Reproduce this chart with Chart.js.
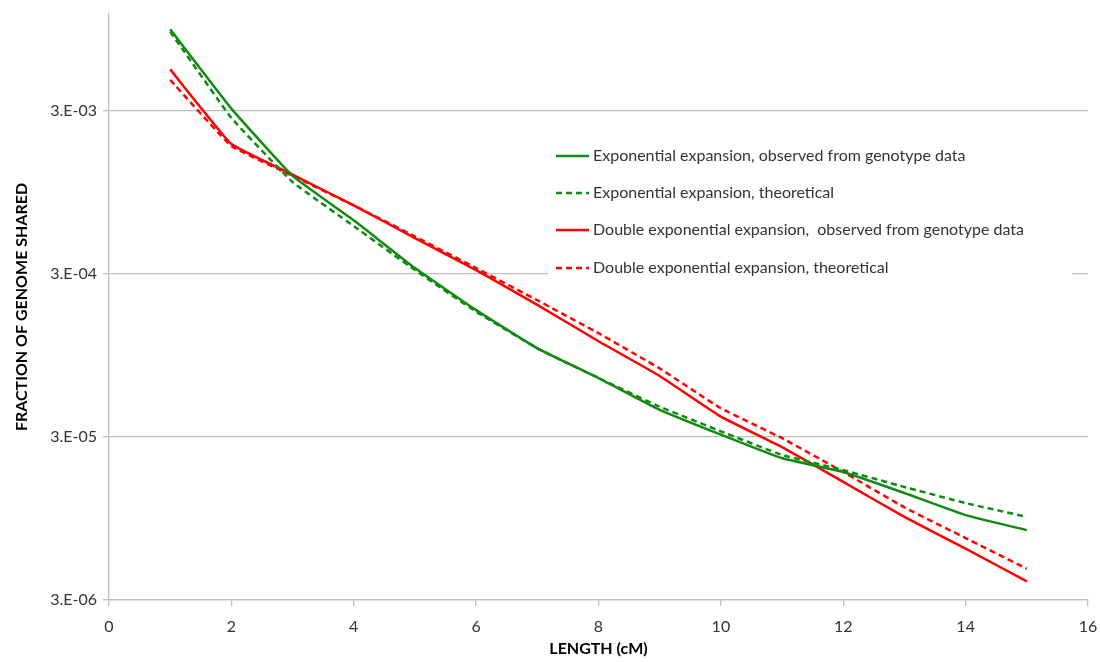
<!DOCTYPE html>
<html>
<head>
<meta charset="utf-8">
<script src="https://cdn.jsdelivr.net/npm/chart.js@4.4.1/dist/chart.umd.min.js"></script>
<style>
  html, body { margin: 0; padding: 0; background: #fff; }
  #wrap { width: 1100px; height: 662px; position: relative; }
</style>
</head>
<body>
<div id="wrap"><canvas id="c" width="1100" height="662"></canvas></div>
<script>
const lengths = [1, 2, 3, 4, 5, 6, 7, 8, 9, 10, 11, 12, 13, 14, 15];
const expObserved = [9.5e-3, 3.1e-3, 1.2e-3, 6.4e-4, 3.26e-4, 1.8e-4, 1.05e-4, 6.9e-5, 4.4e-5, 3.1e-5, 2.22e-5, 1.83e-5, 1.36e-5, 9.95e-6, 8.05e-6];
const expTheoretical = [9.2e-3, 2.72e-3, 1.1e-3, 5.9e-4, 3.17e-4, 1.76e-4, 1.05e-4, 6.9e-5, 4.6e-5, 3.25e-5, 2.33e-5, 1.88e-5, 1.48e-5, 1.18e-5, 9.7e-6];
const dblObserved = [5.4e-3, 1.88e-3, 1.22e-3, 7.9e-4, 4.98e-4, 3.17e-4, 1.94e-4, 1.16e-4, 7.1e-5, 4.0e-5, 2.6e-5, 1.59e-5, 9.7e-6, 6.2e-6, 3.9e-6];
const dblTheoretical = [4.65e-3, 1.83e-3, 1.2e-3, 7.9e-4, 5.1e-4, 3.26e-4, 2.07e-4, 1.3e-4, 7.9e-5, 4.5e-5, 2.95e-5, 1.83e-5, 1.11e-5, 7.2e-6, 4.66e-6];
const yTickValues = [3e-6, 3e-5, 3e-4, 3e-3];
const yTickLabels = ["3.E-06", "3.E-05", "3.E-04", "3.E-03"];
const seriesLabels = [
  "Exponential expansion, observed from genotype data",
  "Exponential expansion, theoretical",
  "Double exponential expansion,  observed from genotype data",
  "Double exponential expansion, theoretical"
];

const GREEN = "#118a11";
const RED = "#ff0000";
const FONT = "Lato, 'Open Sans', sans-serif";

function pts(arr) { return lengths.map((x, i) => ({ x: x, y: arr[i] })); }

const insideLegend = {
  id: "insideLegend",
  afterDatasetsDraw(chart) {
    const ctx = chart.ctx;
    ctx.save();
    ctx.fillStyle = "#fff";
    ctx.fillRect(548, 138, 524, 148);
    const rows = [156, 193, 230, 268];
    chart.data.datasets.forEach((ds, i) => {
      const y = rows[i];
      ctx.strokeStyle = ds.borderColor;
      ctx.lineWidth = 2.5;
      ctx.setLineDash(ds.borderDash || []);
      ctx.beginPath();
      ctx.moveTo(556, y);
      ctx.lineTo(589, y);
      ctx.stroke();
      ctx.setLineDash([]);
      ctx.fillStyle = "#333";
      ctx.font = "16px " + FONT;
      ctx.textBaseline = "middle";
      ctx.textAlign = "left";
      ctx.fillText(ds.label, 593, y);
    });
    ctx.restore();
  }
};

const lineCommon = { borderWidth: 2.5, tension: 0.1, pointRadius: 0, fill: false };

new Chart(document.getElementById("c"), {
  type: "line",
  data: {
    datasets: [
      Object.assign({ label: seriesLabels[0], data: pts(expObserved), borderColor: GREEN }, lineCommon),
      Object.assign({ label: seriesLabels[1], data: pts(expTheoretical), borderColor: GREEN, borderDash: [6, 4] }, lineCommon),
      Object.assign({ label: seriesLabels[2], data: pts(dblObserved), borderColor: RED }, lineCommon),
      Object.assign({ label: seriesLabels[3], data: pts(dblTheoretical), borderColor: RED, borderDash: [6, 4] }, lineCommon)
    ]
  },
  options: {
    responsive: false,
    animation: false,
    layout: { padding: { left: 0, right: 12, top: 14, bottom: 0 } },
    plugins: {
      legend: { display: false },
      tooltip: { enabled: false }
    },
    scales: {
      x: {
        type: "linear",
        min: 0, max: 16,
        ticks: { stepSize: 2, color: "#333", font: { family: FONT, size: 16 }, padding: 11 },
        grid: { drawOnChartArea: false, tickColor: "#bfbfbf", tickLength: 6, lineWidth: 1.3 },
        border: { color: "#bfbfbf", width: 1.3 },
        title: { display: true, text: "LENGTH (cM)", color: "#000", font: { family: FONT, size: 16, weight: "bold" }, padding: { top: 2 } },
        afterFit(scale) { scale.height = 62; scale.paddingRight = 0; scale.paddingLeft = 0; }
      },
      y: {
        type: "logarithmic",
        min: 3e-6, max: 0.0118,
        afterBuildTicks(scale) { scale.ticks = yTickValues.map(v => ({ value: v })); },
        ticks: {
          color: "#333", font: { family: FONT, size: 16 }, padding: 6,
          callback(value) { const i = yTickValues.findIndex(v => Math.abs(v - value) / v < 1e-6); return i >= 0 ? yTickLabels[i] : ""; }
        },
        grid: { color: "#bfbfbf", tickColor: "#bfbfbf", tickLength: 6, lineWidth: 1.3 },
        border: { color: "#bfbfbf", width: 1.3 },
        title: { display: true, text: "FRACTION OF GENOME SHARED", color: "#000", font: { family: FONT, size: 16, weight: "bold" }, padding: { top: 12, bottom: 10 } },
        afterFit(scale) { scale.width = 109; scale.paddingTop = 0; scale.paddingBottom = 0; }
      }
    }
  },
  plugins: [insideLegend]
});
</script>
</body>
</html>
